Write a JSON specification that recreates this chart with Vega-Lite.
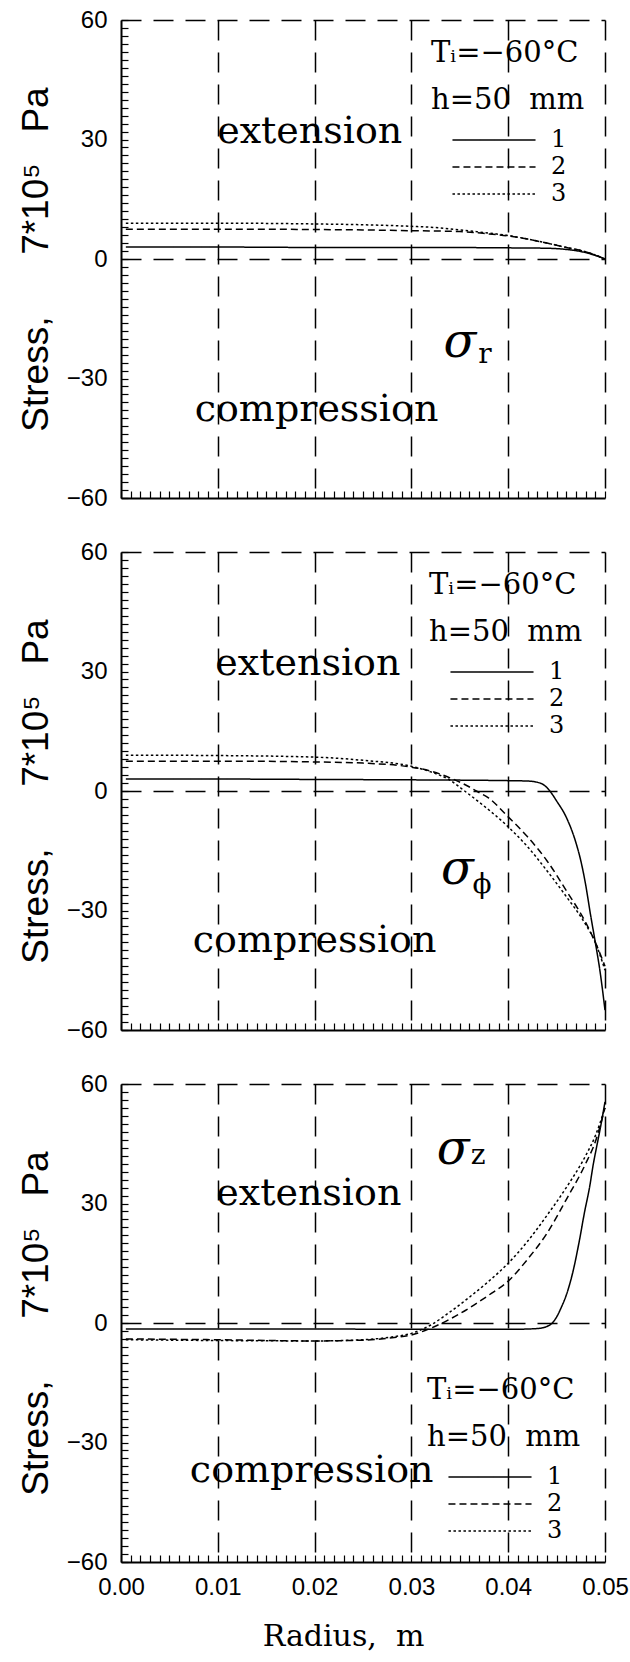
{
"$schema": "https://vega.github.io/schema/vega-lite/v6.json",
"padding": {"left": 16, "top": 8, "right": 0, "bottom": 6},
"background": "white",
"spacing": 30,
"config": {
  "font": "Liberation Sans",
  "view": {"stroke": null},
  "axis": {"domainColor": "black", "domainWidth": 2, "tickColor": "black", "tickWidth": 1.2, "tickSize": -7, "gridColor": "black", "gridWidth": 1.5, "gridDash": [20, 12], "labelFont": "Liberation Sans", "labelFontSize": 24, "labelColor": "black", "labelOverlap": false, "labelFlush": false, "labelBound": false, "titleColor": "black", "titleFontWeight": "normal"},
  "legend": {"orient": "none", "padding": 0, "titleFont": "DejaVu Serif", "titleFontSize": 29, "titleFontWeight": "normal", "titleColor": "black", "titleLineHeight": 47, "titlePadding": 13, "titleAnchor": "start", "titleAlign": "left", "labelFont": "DejaVu Serif", "labelFontSize": 24, "labelColor": "black", "symbolType": "M-5,0H5", "symbolSize": 276, "symbolStrokeWidth": 1.5, "symbolStrokeColor": "black", "symbolOffset": 51, "labelOffset": 45, "rowPadding": 3},
  "text": {"color": "black", "align": "center", "baseline": "middle", "font": "DejaVu Serif"}
},
"resolve": {"scale": {"strokeDash": "independent"}, "legend": {"strokeDash": "independent"}},
"vconcat": [
{
  "width": 484, "height": 478,
  "encoding": {
    "x": {"field": "r", "type": "quantitative", "scale": {"domain": [0, 0.05], "nice": false, "zero": false},
      "axis": {"values": [0,0.001,0.002,0.003,0.004,0.005,0.006,0.007,0.008,0.009,0.01,0.011,0.012,0.013,0.014,0.015,0.016,0.017,0.018,0.019,0.02,0.021,0.022,0.023,0.024,0.025,0.026,0.027,0.028,0.029,0.03,0.031,0.032,0.033,0.034,0.035,0.036,0.037,0.038,0.039,0.04,0.041,0.042,0.043,0.044,0.045,0.046,0.047,0.048,0.049,0.05], "labels": false, "title": null, "grid": true,
        "gridOpacity": {"condition": {"test": "datum.value > 0.005 && abs(datum.value*100 - round(datum.value*100)) < 0.000001", "value": 1}, "value": 0}}},
    "y": {"field": "s", "type": "quantitative", "scale": {"domain": [-60, 60], "nice": false, "zero": false},
      "axis": {"values": [-60,-58,-56,-54,-52,-50,-48,-46,-44,-42,-40,-38,-36,-34,-32,-30,-28,-26,-24,-22,-20,-18,-16,-14,-12,-10,-8,-6,-4,-2,0,2,4,6,8,10,12,14,16,18,20,22,24,26,28,30,32,34,36,38,40,42,44,46,48,50,52,54,56,58,60],
        "labelExpr": "datum.value % 30 === 0 ? (datum.value < 0 ? '−' + (-datum.value) : '' + datum.value) : ''", "labelPadding": 21,
        "grid": true, "gridOpacity": {"condition": {"test": "datum.value === 0 || datum.value === 60", "value": 1}, "value": 0},
        "title": "Stress,\u00a0\u00a0\u00a0\u00a0\u00a0\u00a07*10⁵\u00a0\u00a0\u00a0Pa", "titleFont": "Liberation Sans", "titleFontSize": 37, "titleX": -85, "titleBaseline": "middle"}}
  },
  "layer": [
    {
      "data": {"values": [
        {"r": 0.0005, "s": 3, "c": "1"}, {"r": 0.01, "s": 3, "c": "1"}, {"r": 0.02, "s": 2.9, "c": "1"}, {"r": 0.03, "s": 2.9, "c": "1"}, {"r": 0.04, "s": 2.8, "c": "1"}, {"r": 0.044, "s": 2.7, "c": "1"}, {"r": 0.046, "s": 2.4, "c": "1"}, {"r": 0.047, "s": 2.1, "c": "1"}, {"r": 0.048, "s": 1.6, "c": "1"}, {"r": 0.049, "s": 0.9, "c": "1"}, {"r": 0.05, "s": 0, "c": "1"},
        {"r": 0.0005, "s": 7.5, "c": "2"}, {"r": 0.01, "s": 7.5, "c": "2"}, {"r": 0.02, "s": 7.4, "c": "2"}, {"r": 0.025, "s": 7.3, "c": "2"}, {"r": 0.03, "s": 7.1, "c": "2"}, {"r": 0.033, "s": 7, "c": "2"}, {"r": 0.035, "s": 6.9, "c": "2"}, {"r": 0.038, "s": 6.3, "c": "2"}, {"r": 0.04, "s": 5.8, "c": "2"}, {"r": 0.042, "s": 5, "c": "2"}, {"r": 0.044, "s": 4, "c": "2"}, {"r": 0.046, "s": 2.9, "c": "2"}, {"r": 0.048, "s": 1.8, "c": "2"}, {"r": 0.049, "s": 1, "c": "2"}, {"r": 0.05, "s": 0, "c": "2"},
        {"r": 0.0005, "s": 9, "c": "3"}, {"r": 0.01, "s": 9, "c": "3"}, {"r": 0.02, "s": 8.8, "c": "3"}, {"r": 0.025, "s": 8.6, "c": "3"}, {"r": 0.03, "s": 8.2, "c": "3"}, {"r": 0.033, "s": 7.8, "c": "3"}, {"r": 0.035, "s": 7.3, "c": "3"}, {"r": 0.038, "s": 6.5, "c": "3"}, {"r": 0.04, "s": 5.9, "c": "3"}, {"r": 0.042, "s": 5, "c": "3"}, {"r": 0.044, "s": 4, "c": "3"}, {"r": 0.046, "s": 2.9, "c": "3"}, {"r": 0.048, "s": 1.8, "c": "3"}, {"r": 0.049, "s": 1, "c": "3"}, {"r": 0.05, "s": 0, "c": "3"}
      ]},
      "mark": {"type": "line", "color": "black", "strokeWidth": 1.5, "interpolate": "monotone"},
      "encoding": {
        "strokeDash": {"field": "c", "type": "nominal", "scale": {"domain": ["1", "2", "3"], "range": [[1, 0], [7, 4], [2.5, 2.5]]},
          "legend": {"title": ["Tᵢ=−60°C", "h=50\u00a0\u00a0mm"], "legendX": 310, "legendY": 19}}
      }
    },
    {
      "data": {"values": [{"r": 0.0195, "s": 32, "t": "extension"}, {"r": 0.0202, "s": -38, "t": "compression"}]},
      "mark": {"type": "text", "fontSize": 38},
      "encoding": {"text": {"field": "t"}}
    },
    {
      "data": {"values": [{"r": 0.035, "s": -21, "t": "σ"}]},
      "mark": {"type": "text", "fontStyle": "italic", "fontSize": 48},
      "encoding": {"text": {"field": "t"}}
    },
    {
      "data": {"values": [{"r": 0.0376, "s": -24, "t": "r"}]},
      "mark": {"type": "text", "fontSize": 28},
      "encoding": {"text": {"field": "t"}}
    }
  ]
},
{
  "width": 484, "height": 478,
  "encoding": {
    "x": {"field": "r", "type": "quantitative", "scale": {"domain": [0, 0.05], "nice": false, "zero": false},
      "axis": {"values": [0,0.001,0.002,0.003,0.004,0.005,0.006,0.007,0.008,0.009,0.01,0.011,0.012,0.013,0.014,0.015,0.016,0.017,0.018,0.019,0.02,0.021,0.022,0.023,0.024,0.025,0.026,0.027,0.028,0.029,0.03,0.031,0.032,0.033,0.034,0.035,0.036,0.037,0.038,0.039,0.04,0.041,0.042,0.043,0.044,0.045,0.046,0.047,0.048,0.049,0.05], "labels": false, "title": null, "grid": true,
        "gridOpacity": {"condition": {"test": "datum.value > 0.005 && abs(datum.value*100 - round(datum.value*100)) < 0.000001", "value": 1}, "value": 0}}},
    "y": {"field": "s", "type": "quantitative", "scale": {"domain": [-60, 60], "nice": false, "zero": false},
      "axis": {"values": [-60,-58,-56,-54,-52,-50,-48,-46,-44,-42,-40,-38,-36,-34,-32,-30,-28,-26,-24,-22,-20,-18,-16,-14,-12,-10,-8,-6,-4,-2,0,2,4,6,8,10,12,14,16,18,20,22,24,26,28,30,32,34,36,38,40,42,44,46,48,50,52,54,56,58,60],
        "labelExpr": "datum.value % 30 === 0 ? (datum.value < 0 ? '−' + (-datum.value) : '' + datum.value) : ''", "labelPadding": 21,
        "grid": true, "gridOpacity": {"condition": {"test": "datum.value === 0 || datum.value === 60", "value": 1}, "value": 0},
        "title": "Stress,\u00a0\u00a0\u00a0\u00a0\u00a0\u00a07*10⁵\u00a0\u00a0\u00a0Pa", "titleFont": "Liberation Sans", "titleFontSize": 37, "titleX": -85, "titleBaseline": "middle"}}
  },
  "layer": [
    {
      "data": {"values": [
        {"r": 0.0005, "s": 3, "c": "1"}, {"r": 0.01, "s": 3, "c": "1"}, {"r": 0.02, "s": 2.9, "c": "1"}, {"r": 0.03, "s": 2.8, "c": "1"}, {"r": 0.04, "s": 2.6, "c": "1"}, {"r": 0.042, "s": 2.5, "c": "1"}, {"r": 0.043, "s": 2.2, "c": "1"}, {"r": 0.0437, "s": 1.5, "c": "1"}, {"r": 0.0443, "s": 0, "c": "1"}, {"r": 0.045, "s": -2.5, "c": "1"}, {"r": 0.046, "s": -6.6, "c": "1"}, {"r": 0.047, "s": -13, "c": "1"}, {"r": 0.0475, "s": -17.5, "c": "1"}, {"r": 0.048, "s": -23.5, "c": "1"}, {"r": 0.0485, "s": -31, "c": "1"}, {"r": 0.049, "s": -38, "c": "1"}, {"r": 0.0495, "s": -45.5, "c": "1"}, {"r": 0.05, "s": -55, "c": "1"},
        {"r": 0.0005, "s": 7.5, "c": "2"}, {"r": 0.01, "s": 7.5, "c": "2"}, {"r": 0.02, "s": 7.3, "c": "2"}, {"r": 0.025, "s": 7, "c": "2"}, {"r": 0.03, "s": 6, "c": "2"}, {"r": 0.032, "s": 5, "c": "2"}, {"r": 0.034, "s": 3.3, "c": "2"}, {"r": 0.036, "s": 1, "c": "2"}, {"r": 0.0367, "s": 0, "c": "2"}, {"r": 0.038, "s": -1.8, "c": "2"}, {"r": 0.04, "s": -6.5, "c": "2"}, {"r": 0.042, "s": -11.5, "c": "2"}, {"r": 0.044, "s": -17.5, "c": "2"}, {"r": 0.046, "s": -25, "c": "2"}, {"r": 0.048, "s": -33, "c": "2"}, {"r": 0.049, "s": -38, "c": "2"}, {"r": 0.05, "s": -44, "c": "2"},
        {"r": 0.0005, "s": 9, "c": "3"}, {"r": 0.01, "s": 8.9, "c": "3"}, {"r": 0.02, "s": 8.5, "c": "3"}, {"r": 0.025, "s": 7.7, "c": "3"}, {"r": 0.03, "s": 6.2, "c": "3"}, {"r": 0.032, "s": 4.8, "c": "3"}, {"r": 0.034, "s": 2.7, "c": "3"}, {"r": 0.0355, "s": 0, "c": "3"}, {"r": 0.037, "s": -2.8, "c": "3"}, {"r": 0.04, "s": -9, "c": "3"}, {"r": 0.042, "s": -14, "c": "3"}, {"r": 0.044, "s": -20, "c": "3"}, {"r": 0.046, "s": -26.5, "c": "3"}, {"r": 0.048, "s": -33.5, "c": "3"}, {"r": 0.049, "s": -38, "c": "3"}, {"r": 0.05, "s": -45, "c": "3"}
      ]},
      "mark": {"type": "line", "color": "black", "strokeWidth": 1.5, "interpolate": "monotone"},
      "encoding": {
        "strokeDash": {"field": "c", "type": "nominal", "scale": {"domain": ["1", "2", "3"], "range": [[1, 0], [7, 4], [2.5, 2.5]]},
          "legend": {"title": ["Tᵢ=−60°C", "h=50\u00a0\u00a0mm"], "legendX": 308, "legendY": 19}}
      }
    },
    {
      "data": {"values": [{"r": 0.0193, "s": 31.8, "t": "extension"}, {"r": 0.02, "s": -37.7, "t": "compression"}]},
      "mark": {"type": "text", "fontSize": 38},
      "encoding": {"text": {"field": "t"}}
    },
    {
      "data": {"values": [{"r": 0.03475, "s": -19.8, "t": "σ"}]},
      "mark": {"type": "text", "fontStyle": "italic", "fontSize": 48},
      "encoding": {"text": {"field": "t"}}
    },
    {
      "data": {"values": [{"r": 0.0373, "s": -23.5, "t": "ϕ"}]},
      "mark": {"type": "text", "fontSize": 28},
      "encoding": {"text": {"field": "t"}}
    }
  ]
},
{
  "width": 484, "height": 478,
  "encoding": {
    "x": {"field": "r", "type": "quantitative", "scale": {"domain": [0, 0.05], "nice": false, "zero": false},
      "axis": {"values": [0,0.001,0.002,0.003,0.004,0.005,0.006,0.007,0.008,0.009,0.01,0.011,0.012,0.013,0.014,0.015,0.016,0.017,0.018,0.019,0.02,0.021,0.022,0.023,0.024,0.025,0.026,0.027,0.028,0.029,0.03,0.031,0.032,0.033,0.034,0.035,0.036,0.037,0.038,0.039,0.04,0.041,0.042,0.043,0.044,0.045,0.046,0.047,0.048,0.049,0.05],
        "labelExpr": "abs(datum.value*100 - round(datum.value*100)) < 0.000001 ? format(datum.value, '.2f') : ''", "labelPadding": 20,
        "title": "Radius,\u00a0\u00a0m", "titleFont": "DejaVu Serif", "titleFontSize": 30, "titleX": 222, "titleY": 74, "titleAlign": "center", "titleBaseline": "middle", "grid": true,
        "gridOpacity": {"condition": {"test": "datum.value > 0.005 && abs(datum.value*100 - round(datum.value*100)) < 0.000001", "value": 1}, "value": 0}}},
    "y": {"field": "s", "type": "quantitative", "scale": {"domain": [-60, 60], "nice": false, "zero": false},
      "axis": {"values": [-60,-58,-56,-54,-52,-50,-48,-46,-44,-42,-40,-38,-36,-34,-32,-30,-28,-26,-24,-22,-20,-18,-16,-14,-12,-10,-8,-6,-4,-2,0,2,4,6,8,10,12,14,16,18,20,22,24,26,28,30,32,34,36,38,40,42,44,46,48,50,52,54,56,58,60],
        "labelExpr": "datum.value % 30 === 0 ? (datum.value < 0 ? '−' + (-datum.value) : '' + datum.value) : ''", "labelPadding": 21,
        "grid": true, "gridOpacity": {"condition": {"test": "datum.value === 0 || datum.value === 60", "value": 1}, "value": 0},
        "title": "Stress,\u00a0\u00a0\u00a0\u00a0\u00a0\u00a07*10⁵\u00a0\u00a0\u00a0Pa", "titleFont": "Liberation Sans", "titleFontSize": 37, "titleX": -85, "titleBaseline": "middle"}}
  },
  "layer": [
    {
      "data": {"values": [
        {"r": 0.0005, "s": -1.5, "c": "1"}, {"r": 0.01, "s": -1.5, "c": "1"}, {"r": 0.02, "s": -1.5, "c": "1"}, {"r": 0.03, "s": -1.6, "c": "1"}, {"r": 0.04, "s": -1.6, "c": "1"}, {"r": 0.043, "s": -1.4, "c": "1"}, {"r": 0.0443, "s": -0.5, "c": "1"}, {"r": 0.045, "s": 1.5, "c": "1"}, {"r": 0.0455, "s": 4, "c": "1"}, {"r": 0.046, "s": 7, "c": "1"}, {"r": 0.0467, "s": 13, "c": "1"}, {"r": 0.0473, "s": 20, "c": "1"}, {"r": 0.0479, "s": 28, "c": "1"}, {"r": 0.0484, "s": 34, "c": "1"}, {"r": 0.0488, "s": 40, "c": "1"}, {"r": 0.0492, "s": 45, "c": "1"}, {"r": 0.0496, "s": 50, "c": "1"}, {"r": 0.05, "s": 55.5, "c": "1"},
        {"r": 0.0005, "s": -4, "c": "2"}, {"r": 0.01, "s": -4.2, "c": "2"}, {"r": 0.02, "s": -4.5, "c": "2"}, {"r": 0.025, "s": -4.3, "c": "2"}, {"r": 0.028, "s": -3.7, "c": "2"}, {"r": 0.03, "s": -3, "c": "2"}, {"r": 0.032, "s": -1.3, "c": "2"}, {"r": 0.034, "s": 1, "c": "2"}, {"r": 0.036, "s": 3.8, "c": "2"}, {"r": 0.038, "s": 7, "c": "2"}, {"r": 0.04, "s": 10.5, "c": "2"}, {"r": 0.042, "s": 16, "c": "2"}, {"r": 0.044, "s": 22.5, "c": "2"}, {"r": 0.046, "s": 31, "c": "2"}, {"r": 0.048, "s": 40, "c": "2"}, {"r": 0.049, "s": 45.5, "c": "2"}, {"r": 0.05, "s": 54, "c": "2"},
        {"r": 0.0005, "s": -4.2, "c": "3"}, {"r": 0.01, "s": -4.4, "c": "3"}, {"r": 0.02, "s": -4.5, "c": "3"}, {"r": 0.025, "s": -4.2, "c": "3"}, {"r": 0.028, "s": -3.5, "c": "3"}, {"r": 0.03, "s": -2.6, "c": "3"}, {"r": 0.032, "s": -0.5, "c": "3"}, {"r": 0.034, "s": 2.8, "c": "3"}, {"r": 0.036, "s": 6.5, "c": "3"}, {"r": 0.038, "s": 10.5, "c": "3"}, {"r": 0.04, "s": 15, "c": "3"}, {"r": 0.042, "s": 20.5, "c": "3"}, {"r": 0.044, "s": 27, "c": "3"}, {"r": 0.046, "s": 34, "c": "3"}, {"r": 0.048, "s": 42, "c": "3"}, {"r": 0.049, "s": 47, "c": "3"}, {"r": 0.05, "s": 54, "c": "3"}
      ]},
      "mark": {"type": "line", "color": "black", "strokeWidth": 1.5, "interpolate": "monotone"},
      "encoding": {
        "strokeDash": {"field": "c", "type": "nominal", "scale": {"domain": ["1", "2", "3"], "range": [[1, 0], [7, 4], [2.5, 2.5]]},
          "legend": {"title": ["Tᵢ=−60°C", "h=50\u00a0\u00a0mm"], "legendX": 306, "legendY": 292}}
      }
    },
    {
      "data": {"values": [{"r": 0.0194, "s": 32.4, "t": "extension"}, {"r": 0.0197, "s": -37.2, "t": "compression"}]},
      "mark": {"type": "text", "fontSize": 38},
      "encoding": {"text": {"field": "t"}}
    },
    {
      "data": {"values": [{"r": 0.0343, "s": 43.4, "t": "σ"}]},
      "mark": {"type": "text", "fontStyle": "italic", "fontSize": 48},
      "encoding": {"text": {"field": "t"}}
    },
    {
      "data": {"values": [{"r": 0.0369, "s": 42, "t": "z"}]},
      "mark": {"type": "text", "fontSize": 28},
      "encoding": {"text": {"field": "t"}}
    }
  ]
}
]
}
